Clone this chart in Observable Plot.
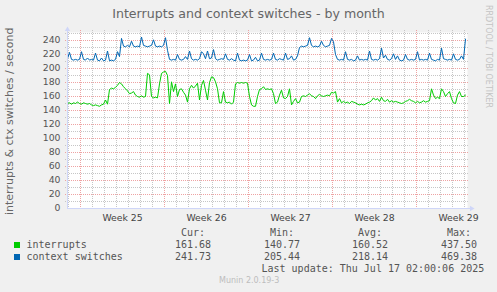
<!DOCTYPE html>
<html><head><meta charset="utf-8">
<script src="https://cdn.jsdelivr.net/npm/d3@7"></script>
<script src="https://cdn.jsdelivr.net/npm/@observablehq/plot@0.6"></script>
<style>
html,body{margin:0;padding:0;background:#f0f0f0;}
#wrap{position:relative;width:497px;height:292px;overflow:hidden;font-family:"DejaVu Sans",sans-serif;color:#666;}
#wrap svg{position:absolute;left:0;top:22px;}
.t{position:absolute;white-space:pre;line-height:12px;}
.mono{font-family:"DejaVu Sans Mono",monospace;font-size:10px;color:#555;}
#title{position:absolute;left:0;top:7px;width:497px;text-align:center;font-size:12.6px;line-height:14px;color:#666;}
#ylab{position:absolute;left:4px;top:20px;height:203px;width:12px;line-height:12px;writing-mode:vertical-rl;transform:rotate(180deg);text-align:center;font-size:11px;color:#666;white-space:nowrap;}
#rrd{position:absolute;left:484px;top:5px;width:9px;line-height:9px;writing-mode:vertical-rl;font-size:8px;color:#c4c4c4;white-space:nowrap;}
.sw{position:absolute;width:6px;height:6px;}
</style></head>
<body>
<div id="wrap">
  <div id="title">Interrupts and context switches - by month</div>
  <div id="ylab">interrupts &amp; ctx switches / second</div>
  <div id="rrd">RRDTOOL / TOBI OETIKER</div>
</div>
<script>
// ---- data (one sample every 4 hours, first sample Fri 2025-06-13 22:00) ----
const sampleStart = Date.UTC(2025, 5, 13, 22);
const sampleStepHours = 4;
const ctxSwitches = [
 214,223,213,212,213,212,213,224,213,212,
 215,212,213,212,222,212,211,215,211,212,
 225,211,212,211,213,224,217,243,232,231,
 233,231,239,232,231,232,231,245,233,232,
 231,232,233,241,232,231,232,231,233,244,
 226,213,212,213,212,220,213,212,213,217,
 213,225,214,212,213,212,214,224,221,214,
 225,214,215,227,214,212,213,214,213,221,
 213,212,214,212,211,222,212,211,212,211,
 212,220,211,212,216,211,212,222,213,212,
 213,212,213,222,213,212,214,213,212,222,
 213,214,218,212,213,218,230,232,231,232,
 233,244,233,231,232,231,232,239,233,231,
 232,233,243,238,220,213,212,213,212,224,
 213,212,213,211,212,218,212,213,212,213,
 212,225,213,212,213,212,214,229,215,219,
 213,212,214,221,213,218,212,211,212,220,
 213,212,213,212,213,224,212,213,212,213,
 212,222,213,212,211,213,212,229,214,213,
 212,213,212,221,213,212,213,218,213,242];
const interrupts = [
 150,151,149,151,150,152,150,149,151,150,
 149,150,148,147,148,147,146,148,149,155,
 149,170,172,171,173,176,180,178,174,171,
 168,164,165,167,162,160,159,161,159,160,
 193,191,160,158,159,158,178,193,195,196,
 190,150,181,167,178,160,170,171,166,162,
 152,171,176,172,175,179,155,176,183,169,
 155,180,188,187,181,171,151,151,167,152,
 151,152,149,152,178,180,179,180,179,180,
 179,160,148,146,146,160,170,171,174,170,
 171,170,171,164,150,152,162,169,158,157,
 160,171,148,153,157,151,152,160,161,160,
 162,164,161,160,157,161,163,161,160,161,
 162,161,166,165,167,152,157,151,153,151,
 152,150,153,152,151,149,148,149,148,149,
 151,152,154,158,155,157,153,159,154,153,
 156,152,154,152,153,152,151,150,151,153,
 154,156,154,153,151,153,151,152,154,152,
 153,154,171,162,157,159,157,171,167,160,
 164,167,157,151,150,162,167,160,160,162];
const weekLabels = ["Week 25", "Week 26", "Week 27", "Week 28", "Week 29"];
const yTicks = [0, 20, 40, 60, 80, 100, 120, 140, 160, 180, 200, 220, 240];
const yMinor = [10, 30, 50, 70, 90, 110, 130, 150, 170, 190, 210, 230, 250];
const yMax = 251.43;
const windowHours = 800;
const seriesNames = ["interrupts", "context switches"];
const seriesColors = ["#00CC00", "#0066B3"];
const statHeads = ["Cur:", "Min:", "Avg:", "Max:"];
const statCur = ["161.68", "241.73"];
const statMin = ["140.77", "205.44"];
const statAvg = ["160.52", "218.14"];
const statMax = ["437.50", "469.38"];
const lastUpdate = "Last update: Thu Jul 17 02:00:06 2025";
const version = "Munin 2.0.19-3";

// ---- build ----
const H = 3600e3;
const rows = interrupts.map((v, i) => ({t: new Date(sampleStart + i * sampleStepHours * H), interrupts: v, ctx: ctxSwitches[i]}));
const x0 = new Date(sampleStart), x1 = new Date(sampleStart + windowHours * H);
const days = d3.utcDay.range(d3.utcDay.ceil(x0), x1);
const weekLines = days.filter(d => d.getUTCDay() === 0);
const dayLines = days.filter(d => d.getUTCDay() !== 0);
const labelTicks = weekLines.map(d => new Date(+d + 3.5 * 24 * H));
const labelMap = new Map(labelTicks.map((d, i) => [+d, weekLabels[i]]));

const gridGray = "#c6c6c6", gridRed = "#eea3a3", axisCol = "#CFD6F8";
const plot = Plot.plot({
  width: 497, height: 206,
  marginLeft: 67, marginRight: 30, marginTop: 10, marginBottom: 20,
  style: {background: "transparent", fontFamily: "DejaVu Sans", color: "#666", overflow: "visible"},
  x: {type: "utc", domain: [x0, x1]},
  y: {domain: [0, yMax]},
  marks: [
    Plot.frame({fill: "#fff", stroke: null}),
    Plot.ruleY(yMinor, {stroke: gridGray, strokeDasharray: "1,1", insetLeft: -2, insetRight: -2}),
    Plot.ruleX(dayLines, {stroke: gridGray, strokeDasharray: "1,1", insetBottom: -2, insetTop: -2}),
    Plot.ruleY(yTicks.filter(v => v > 0), {stroke: gridRed, strokeDasharray: "1,1", insetLeft: -2, insetRight: -2}),
    Plot.ruleX(weekLines, {stroke: gridRed, strokeDasharray: "1,1", insetBottom: -2, insetTop: -2}),
    Plot.line(rows, {x: "t", y: "interrupts", stroke: seriesColors[0], strokeWidth: 1}),
    Plot.line(rows, {x: "t", y: "ctx", stroke: seriesColors[1], strokeWidth: 1}),
    Plot.ruleY([0], {stroke: axisCol, insetRight: -4}),
    Plot.ruleX([x0], {stroke: axisCol, insetTop: -3}),
    Plot.dot([0], {frameAnchor: "top-left", dy: -3, symbol: "triangle", r: 2, fill: axisCol, stroke: null}),
    Plot.dot([0], {frameAnchor: "bottom-right", dx: 4, rotate: 90, symbol: "triangle", r: 2, fill: axisCol, stroke: null}),
    Plot.axisY(yTicks, {tickSize: 0, tickPadding: 7, fontSize: 9.3, fill: "#555", label: null}),
    Plot.axisX(labelTicks, {tickSize: 0, tickPadding: 6, fontSize: 9.3, fill: "#444", label: null, tickFormat: d => labelMap.get(+d)})
  ]
});
const wrap = document.getElementById("wrap");
wrap.appendChild(plot);

// ---- legend (HTML below the svg) ----
function put(text, cls, left, cy, extra) {
  const el = document.createElement("div");
  el.className = "t " + cls;
  el.textContent = text;
  el.style.left = left + "px";
  el.style.top = (cy - 6) + "px";
  if (extra) Object.assign(el.style, extra);
  wrap.appendChild(el);
  return el;
}
const colCenters = [193, 282, 370, 459];
const colVals = [statCur, statMin, statAvg, statMax];
statHeads.forEach((h, j) => put(h, "mono", colCenters[j] - 30, 233, {width: "60px", textAlign: "center"}));
const rowY = [244.5, 256.5];
seriesNames.forEach((n, i) => {
  const sw = document.createElement("div");
  sw.className = "sw";
  sw.style.left = "14px"; sw.style.top = (rowY[i] - 3) + "px"; sw.style.background = seriesColors[i];
  wrap.appendChild(sw);
  put(n, "mono", 26.5, rowY[i]);
  colVals.forEach((vals, j) => put(vals[i], "mono", colCenters[j] - 30, rowY[i], {width: "60px", textAlign: "center"}));
});
put(lastUpdate, "mono", 261.5, 268.7);
put(version, "", 219, 281, {fontSize: "8px", color: "#bdbdbd", fontFamily: "DejaVu Sans"});
</script>
</body></html>
